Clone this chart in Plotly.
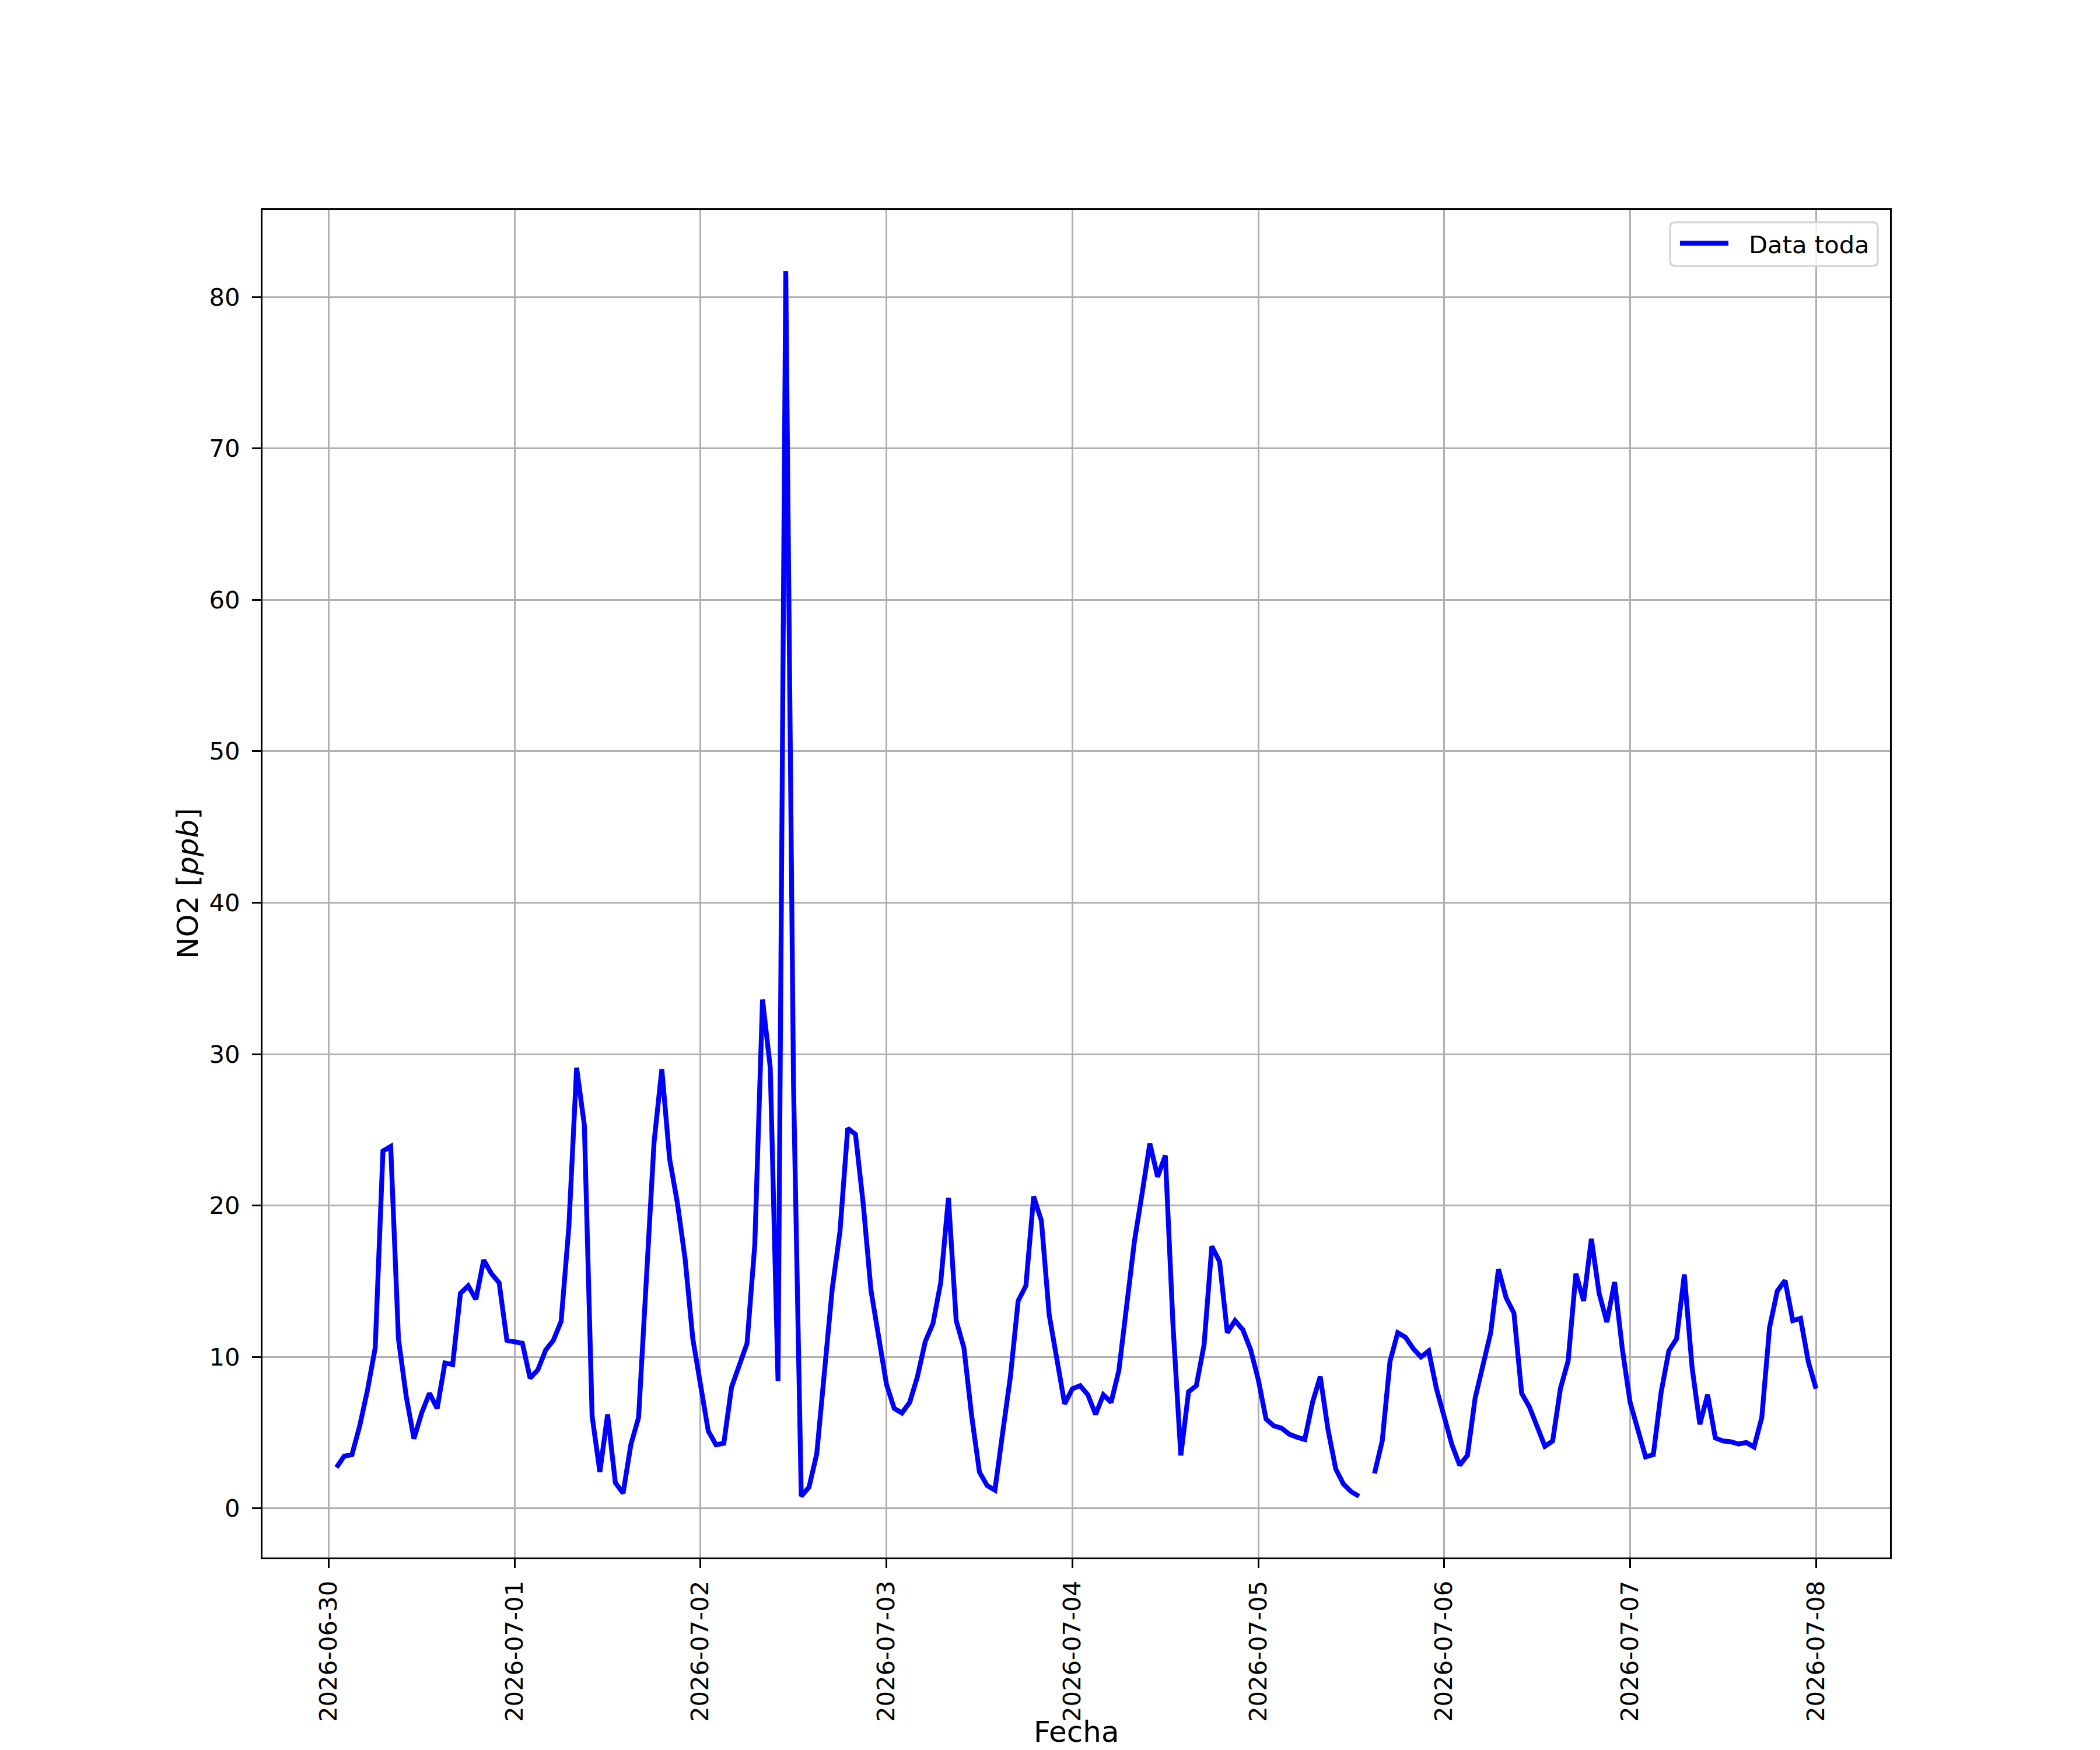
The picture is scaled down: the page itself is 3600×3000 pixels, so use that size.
#NO2 hourly series, one week, line chart
import pandas as pd
import plotly.graph_objs as go

start = "2026-06-30 01:00"
# hourly values, one row per day (None = missing hour)
no2 = [
    2.7, 3.45, 3.55, 5.45, 7.8, 10.6, 23.6, 23.9, 11.2, 7.4, 4.6, 6.3,
    7.6, 6.6, 9.6, 9.5, 14.2, 14.7, 13.8, 16.4, 15.5, 14.9, 11.1, 11.0,
    10.9, 8.6, 9.15, 10.45, 11.1, 12.35, 18.6, 29.1, 25.3, 6.1, 2.4, 6.2,
    1.7, 1.0, 4.2, 6.0, 15.0, 24.2, 29.0, 23.1, 20.2, 16.5, 11.2, 8.0,
    5.1, 4.2, 4.3, 8.0, 9.5, 10.9, 17.4, 33.6, 29.1, 8.4, 81.7, 28.0,
    0.8, 1.4, 3.6, 9.5, 14.5, 18.3, 25.1, 24.7, 20.1, 14.4, 11.1, 8.2,
    6.6, 6.3, 7.0, 8.7, 11.0, 12.2, 14.9, 20.5, 12.4, 10.6, 6.1, 2.4,
    1.5, 1.2, 5.0, 8.7, 13.7, 14.7, 20.6, 19.0, 12.8, 9.9, 6.9, 7.9,
    8.1, 7.5, 6.2, 7.5, 7.0, 9.1, 13.3, 17.6, 20.8, 24.1, 21.9, 23.3,
    12.0, 3.5, 7.7, 8.1, 10.8, 17.3, 16.3, 11.6, 12.4, 11.8, 10.5, 8.5,
    5.9, 5.45, 5.3, 4.9, 4.7, 4.55, 7.0, 8.7, 5.2, 2.6, 1.6, 1.1,
    0.8, None, 2.3, 4.45, 9.7, 11.6, 11.3, 10.55, 10.0, 10.4, 7.9, 5.95,
    4.2, 2.85, 3.5, 7.3, 9.5, 11.6, 15.8, 13.9, 12.9, 7.6, 6.7, 5.5,
    4.1, 4.45, 7.9, 9.75, 15.5, 13.7, 17.8, 14.2, 12.3, 14.95, 10.5, 7.0,
    5.2, 3.4, 3.55, 7.65, 10.4, 11.2, 15.45, 9.3, 5.55, 7.5, 4.65, 4.45,
    4.4, 4.25, 4.35, 4.05, 6.0, 11.95, 14.35, 15.05, 12.4, 12.55, 9.7, 7.9,
]
times = pd.date_range(start, periods=len(no2), freq="h")
day_ticks = pd.date_range("2026-06-30", "2026-07-08", freq="D")
day_labels = [d.strftime("%Y-%m-%d") for d in day_ticks]
y_ticks = list(range(0, 81, 10))

# page body has an 8px margin, so the figure is drawn 8px smaller and shifted
off = 8
W, H = 3600 - off, 3000 - off
L, R, T, B = 450 - off, 360, 360 - off, 330
pw, ph = W - L - R, H - T - B
fs = 41.7  # 10pt at 300 dpi
font = "DejaVu Sans"
lw = 8.3

# 5% margins like matplotlib autoscale
vals = [v for v in no2 if v is not None]
ypad = (max(vals) - min(vals)) * 0.05
tpad = (times[-1] - times[0]) * 0.05

trace = go.Scatter(x=times, y=no2, mode="lines", name="Data toda",
                   line=dict(color="#0000ff", width=lw), connectgaps=False,
                   showlegend=False)

axis_common = dict(showline=True, linecolor="black", linewidth=3.3, mirror=True,
                   ticks="outside", ticklen=15, tickwidth=3.3, tickcolor="black",
                   showgrid=True, gridcolor="#b0b0b0", gridwidth=3.3, zeroline=False,
                   tickfont=dict(family=font, size=fs, color="black"))

layout = go.Layout(
    width=W, height=H,
    margin=dict(l=L, r=R, t=T, b=B, pad=0),
    paper_bgcolor="white", plot_bgcolor="white",
    font=dict(family=font, size=fs, color="black"),
    xaxis=dict(type="date", range=[times[0] - tpad, times[-1] + tpad],
               tickvals=day_ticks, ticktext=day_labels, tickangle=-90,
               ticklabelstandoff=5, **axis_common),
    yaxis=dict(range=[min(vals) - ypad, max(vals) + ypad], tickvals=y_ticks,
               ticktext=[str(v) for v in y_ticks], ticklabelstandoff=12,
               **axis_common),
    showlegend=False,
)
fig = go.Figure(data=[trace], layout=layout)

# positions below are in reference-image pixels
def px(x):  # pixel -> paper x
    return (x - off - L) / pw

def py(y):  # pixel -> paper y
    return (H - B - (y - off)) / ph

# axis titles
fig.add_annotation(text="Fecha", x=0.5, y=py(2969), xref="paper", yref="paper",
                   xanchor="center", yanchor="middle", showarrow=False, borderpad=0,
                   font=dict(family=font, size=50, color="black"))
fig.add_annotation(text="NO2 [<i>ppb</i>]", x=px(322), y=0.5, xref="paper", yref="paper",
                   xanchor="center", yanchor="middle", textangle=-90, showarrow=False,
                   font=dict(family=font, size=50, color="black"))

# legend box, drawn like matplotlib's (rounded frame, upper right)
x0, x1, y0, y1, r = 2863, 3219, 381, 456, 9
rx, ry = r / pw, r / ph
a, b, c, d = px(x0), px(x1), py(y1), py(y0)
path = (f"M{a+rx},{c} L{b-rx},{c} Q{b},{c} {b},{c+ry} L{b},{d-ry} Q{b},{d} {b-rx},{d} "
        f"L{a+rx},{d} Q{a},{d} {a},{d-ry} L{a},{c+ry} Q{a},{c} {a+rx},{c} Z")
fig.add_shape(type="path", path=path, xref="paper", yref="paper",
              fillcolor="rgba(255,255,255,0.8)", line=dict(color="#d6d6d6", width=3.5))
fig.add_shape(type="line", x0=px(2880), x1=px(2963), y0=py(417), y1=py(417),
              xref="paper", yref="paper", line=dict(color="#0000ff", width=lw))
fig.add_annotation(text="Data toda", x=px(2996), y=py(419), xref="paper", yref="paper",
                   xanchor="left", yanchor="middle", showarrow=False,
                   font=dict(family=font, size=fs, color="black"))

fig.write_html("out.html")
